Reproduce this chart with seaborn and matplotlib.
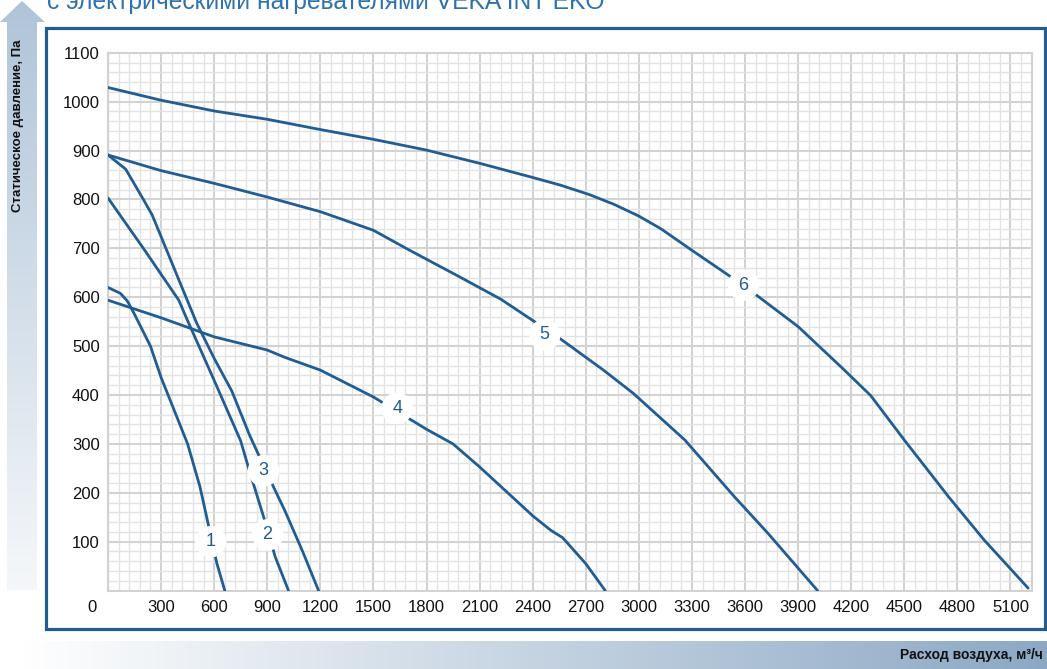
import numpy as np
import pandas as pd
import matplotlib
matplotlib.use("Agg")
import matplotlib.pyplot as plt
from matplotlib.patches import Polygon, Rectangle
from matplotlib.ticker import MultipleLocator
import seaborn as sns

# fan curves: air flow (m3/h) vs static pressure (Pa)
c1_x = [0, 70, 110, 150, 240, 300, 450, 520, 570, 615, 660]
c1_y = [620, 608, 592, 565, 500, 436, 300, 212, 130, 56, 0]
c2_x = [0, 200, 400, 450, 600, 750, 800, 880, 945, 1020]
c2_y = [803, 700, 594, 552, 430, 306, 244, 150, 69, 0]
c3_x = [0, 100, 200, 250, 300, 400, 500, 600, 700, 800, 900, 1000, 1100, 1190]
c3_y = [891, 862, 800, 768, 724, 636, 548, 475, 408, 318, 239, 163, 80, 0]
c4_x = [0, 300, 600, 900, 1000, 1200, 1500, 1800, 1950, 2100, 2400, 2500, 2570, 2700, 2810]
c4_y = [594, 558, 519, 492, 477, 451, 396, 330, 300, 253, 153, 124, 108, 55, 0]
c5_x = [0, 300, 600, 900, 1200, 1500, 1700, 1970, 2220, 2560, 2800, 2970, 3260, 3540, 3730, 4010]
c5_y = [891, 859, 833, 805, 775, 737, 697, 645, 596, 514, 451, 403, 308, 192, 117, 0]
c6_x = [0, 300, 600, 900, 1200, 1500, 1800, 2100, 2400, 2560, 2720, 2860, 3000, 3125, 3300,
        3600, 3900, 4150, 4310, 4500, 4750, 4950, 5200]
c6_y = [1029, 1003, 981, 964, 943, 923, 901, 874, 845, 829, 810, 790, 766, 740, 696,
        622, 540, 455, 399, 308, 192, 104, 5]

curve_names = ["1", "2", "3", "4", "5", "6"]
label_x = [581, 902, 879, 1634, 2468, 3592]
label_y = [100, 114, 245, 373, 523, 625]

x_ticks = list(range(300, 5101, 300))
y_ticks = list(range(100, 1101, 100))

BLUE = "#215c93"

frames = []
for name, xs, ys in zip(curve_names,
                        [c1_x, c2_x, c3_x, c4_x, c5_x, c6_x],
                        [c1_y, c2_y, c3_y, c4_y, c5_y, c6_y]):
    frames.append(pd.DataFrame({"flow": xs, "pressure": ys, "curve": name}))
df = pd.concat(frames, ignore_index=True)

sns.set_theme(style="white")
plt.rcParams["font.family"] = ["Liberation Sans", "DejaVu Sans"]

W, H = 1047, 669
fig = plt.figure(figsize=(W / 100, H / 100), dpi=100)

# decoration layer in pixel coordinates
bg = fig.add_axes([0, 0, 1, 1], zorder=0)
bg.set_xlim(0, W)
bg.set_ylim(H, 0)
bg.axis("off")

# left arrow with vertical gradient
arrow = Polygon([(7, 590), (7, 22), (0, 22), (22, 1), (45, 22), (37, 22), (37, 590)],
                closed=True, fc="none", ec="none")
bg.add_patch(arrow)
grad_v = np.linspace(0, 1, 256).reshape(-1, 1)
top_c = np.array([0.69, 0.77, 0.85])
bot_c = np.array([0.96, 0.97, 0.98])
img_v = top_c + (bot_c - top_c) * grad_v[..., None]
im = bg.imshow(img_v, extent=(0, 45, 590, 1), aspect="auto", zorder=1)
im.set_clip_path(arrow)

# bottom band with horizontal gradient
grad_h = np.linspace(0, 1, 256).reshape(1, -1)
left_c = np.array([1.0, 1.0, 1.0])
right_c = np.array([0.55, 0.66, 0.77])
img_h = left_c + (right_c - left_c) * grad_h[..., None]
bg.imshow(img_h, extent=(20, W, 669, 641), aspect="auto", zorder=1)

# blue frame
bg.add_patch(Rectangle((46, 28), 999, 601, fc="white", ec=BLUE, lw=2.3, zorder=2))

fig.text(18 / W, 1 - 126 / H, "Статическое давление, Па", rotation=90,
         ha="center", va="center", fontsize=9.5, fontweight="bold", color="#111111")
fig.text(1043 / W, 1 - 655 / H, "Расход воздуха, м³/ч",
         ha="right", va="center", fontsize=10, fontweight="bold", color="#111111")
fig.text(47 / W, 1 - 9 / H, "с электрическими нагревателями VEKA INT EKO",
         ha="left", va="baseline", fontsize=17.7, color="#2f72ad")

# main chart
ax = fig.add_axes([108 / W, 1 - 590.6 / H, (1031.7 - 108) / W, (590.6 - 52.8) / H], zorder=2)
ax.set_facecolor("white")
sns.lineplot(data=df, x="flow", y="pressure", units="curve", estimator=None, sort=False,
             color=BLUE, linewidth=2.0, ax=ax, legend=False, zorder=3)

ax.set_xlim(0, 5220)
ax.set_ylim(0, 1100)
ax.set_xticks(x_ticks)
ax.set_yticks(y_ticks)
ax.xaxis.set_minor_locator(MultipleLocator(60))
ax.yaxis.set_minor_locator(MultipleLocator(20))
ax.grid(which="major", color="#d2d2d2", linewidth=1.5, zorder=0)
ax.grid(which="minor", color="#e3e3e3", linewidth=1.0, zorder=0)
ax.set_axisbelow(True)
ax.tick_params(which="both", length=0, labelsize=12, colors="#111111")
ax.tick_params(axis="x", pad=7)
ax.tick_params(axis="y", pad=6)
ax.set_xlabel("")
ax.set_ylabel("")
for sp in ax.spines.values():
    sp.set_color("#d2d2d2")
    sp.set_linewidth(1.5)
ax.text(-90, -34, "0", ha="center", va="center", fontsize=12, color="#111111", clip_on=False)

for name, lx, ly in zip(curve_names, label_x, label_y):
    ax.text(lx, ly, name, ha="center", va="center", fontsize=13, color=BLUE, zorder=5,
            bbox=dict(boxstyle="circle,pad=0.4", fc="white", ec="none"))

fig.savefig("out.png", dpi=100)
